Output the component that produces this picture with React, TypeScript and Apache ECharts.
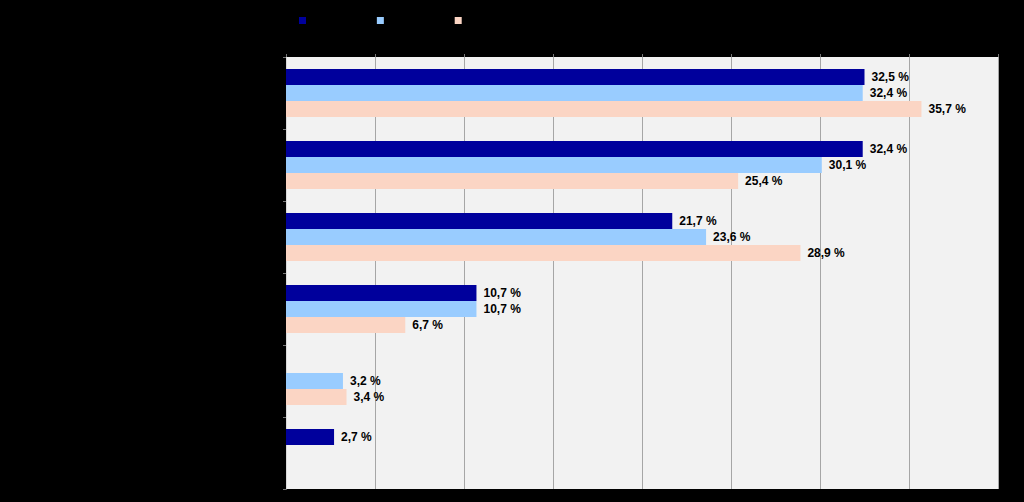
import React, { useEffect, useRef } from "react";
import * as echarts from "echarts";

const categories = ["Catégorie 1", "Catégorie 2", "Catégorie 3", "Catégorie 4", "Catégorie 5", "Catégorie 6"];
const seriesNames = ["Série 1", "Série 2", "Série 3"];
const series1 = [32.5, 32.4, 21.7, 10.7, null, 2.7];
const series2 = [32.4, 30.1, 23.6, 10.7, 3.2, null];
const series3 = [35.7, 25.4, 28.9, 6.7, 3.4, null];
const colors = ["#00009c", "#99ccff", "#fbd5c4"];
const xTicks = { min: 0, max: 40, interval: 5 };

export default function App() {
  const ref = useRef<HTMLDivElement>(null);
  useEffect(() => {
    if (!ref.current) return;
    const chart = echarts.init(ref.current, null, { renderer: "svg" });
    const fmt = (p: any) =>
      p.value == null ? "" : Number(p.value).toFixed(1).replace(".", ",") + " %";
    const data = [series1, series2, series3];
    chart.setOption({
      animation: false,
      backgroundColor: "#000000",
      textStyle: { fontFamily: "Liberation Sans, Arial, sans-serif" },
      legend: {
        left: 294,
        top: 10,
        itemWidth: 7,
        itemHeight: 7,
        itemGap: 31,
        icon: "rect",
        textStyle: { color: "#000000", fontSize: 11 },
        data: seriesNames,
      },
      grid: {
        left: 286,
        top: 57,
        right: 26,
        bottom: 13,
        show: true,
        backgroundColor: "#f2f2f2",
        borderWidth: 0,
      },
      xAxis: {
        type: "value",
        position: "top",
        min: xTicks.min,
        max: xTicks.max,
        interval: xTicks.interval,
        axisLine: { show: false },
        axisTick: { show: true, length: 3, lineStyle: { color: "#777777" } },
        axisLabel: { color: "#000000", fontSize: 11 },
        splitLine: { show: true, lineStyle: { color: "#a6a6a6", width: 1 } },
      },
      yAxis: {
        type: "category",
        inverse: true,
        data: categories,
        axisLine: { show: true, lineStyle: { color: "#d9d9d9", width: 1 } },
        axisTick: { show: true, length: 3, lineStyle: { color: "#777777" } },
        axisLabel: { color: "#000000", fontSize: 11 },
      },
      series: data.map((d, i) => ({
        name: seriesNames[i],
        type: "bar",
        data: d,
        barWidth: 16,
        barGap: "0%",
        itemStyle: { color: colors[i] },
        label: {
          show: true,
          position: "right",
          distance: 7,
          color: "#000000",
          fontWeight: "bold",
          fontSize: 12,
          fontFamily: "Liberation Sans, Arial, sans-serif",
          formatter: fmt,
        },
      })),
    });
    return () => chart.dispose();
  }, []);
  return (
    <div
      ref={ref}
      style={{ position: "fixed", left: 0, top: 0, width: 1024, height: 502 }}
    />
  );
}
